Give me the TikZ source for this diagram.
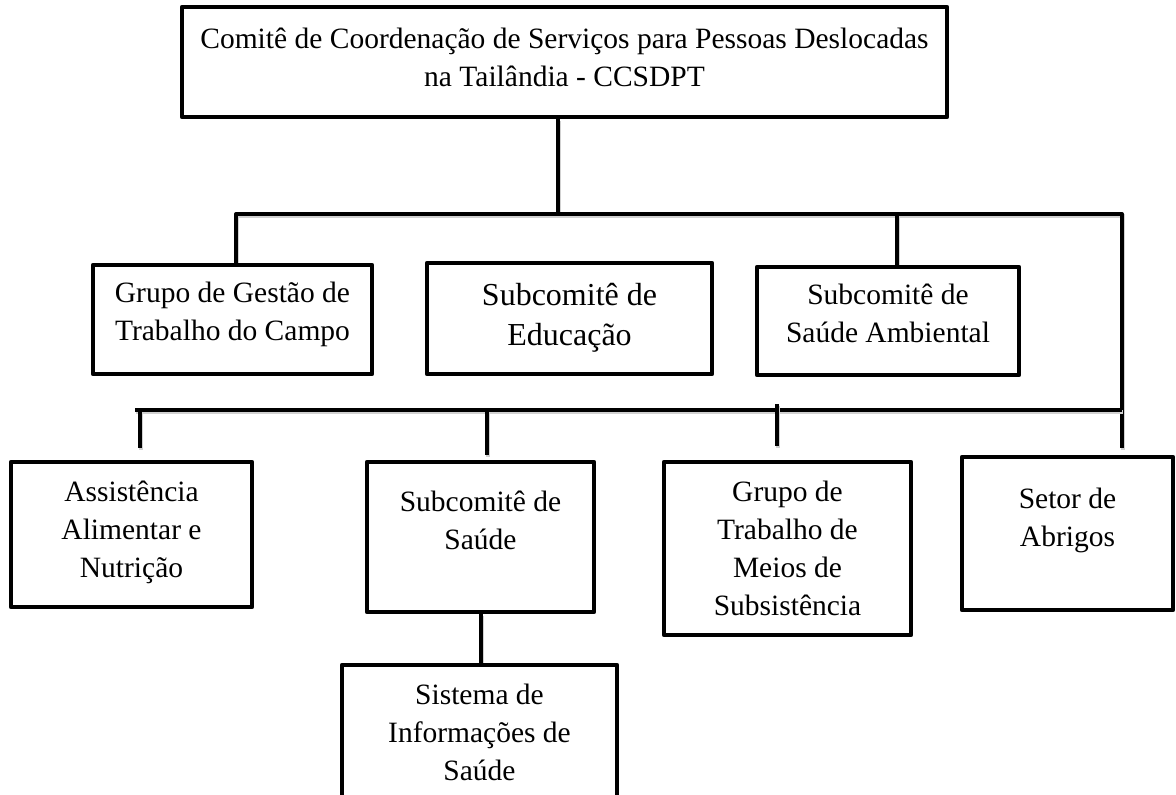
\documentclass[tikz,border=0pt]{standalone}
\usepackage{fontspec}
\setmainfont{Liberation Serif}
\usetikzlibrary{calc,backgrounds}
\begin{document}
\begin{tikzpicture}[x=1pt,y=-1pt,
  box/.style={draw=black, line width=4.5pt, inner sep=0pt, line join=round, rectangle},
  wire/.style={draw=black, line width=4pt,
    preaction={draw=black!18, line width=4pt, transform canvas={shift={(1.2pt,-1.8pt)}}}},
  txt/.style={align=center, inner sep=0pt, font=\fontsize{29.5}{38}\selectfont},
  bigtxt/.style={align=center, inner sep=0pt, font=\fontsize{32}{40}\selectfont}]
\useasboundingbox (0,0) rectangle (1176,795);
\clip (0,0) rectangle (1176,795);

% junction coordinates
\coordinate (a0) at (558,214);
\coordinate (bL) at (236,214);
\coordinate (bR) at (1122,214);
\coordinate (a3) at (897,214);
\coordinate (cL) at (135,410);
\coordinate (cR) at (1122,410);
\coordinate (c4) at (140,410);
\coordinate (c5) at (487,410);
\coordinate (c6) at (777,404);

% boxes
\node[box, minimum width=765pt, minimum height=110pt] (top) at (564.5,62) {};
\node[box, minimum width=279pt, minimum height=109pt] (b1) at (232.5,319.5) {};
\node[box, minimum width=285pt, minimum height=111pt] (b2) at (569.5,318.5) {};
\node[box, minimum width=262pt, minimum height=108pt] (b3) at (888,321) {};
\node[box, minimum width=241pt, minimum height=145pt] (b4) at (131.5,534.5) {};
\node[box, minimum width=227pt, minimum height=150pt] (b5) at (480.5,537) {};
\node[box, minimum width=247pt, minimum height=173pt] (b6) at (787.5,548.5) {};
\node[box, minimum width=211pt, minimum height=153pt] (b7) at (1067.5,533.5) {};
\node[box, minimum width=275pt, minimum height=150pt] (b8) at (479.5,740) {};

% texts
\node[txt] (ttop) at (564.5,60) {\strut Comitê de Coordenação de Serviços para Pessoas Deslocadas\\\strut na Tailândia - CCSDPT};
\node[txt] (t1) at (232.5,313.5) {\strut Grupo de Gestão de\\\strut Trabalho do Campo};
\node[bigtxt] (t2) at (569.5,317) {\strut Subcomitê de\\\strut Educação};
\node[txt] (t3) at (888,316) {\strut Subcomitê de\\\strut Saúde Ambiental};
\node[txt] (t4) at (131.5,532) {\strut Assistência\\\strut Alimentar e\\\strut Nutrição};
\node[txt] (t5) at (480.5,522.5) {\strut Subcomitê de\\\strut Saúde};
\node[txt] (t6) at (787.5,550.5) {\strut Grupo de\\\strut Trabalho de\\\strut Meios de\\\strut Subsistência};
\node[txt] (t7) at (1067.5,520) {\strut Setor de\\\strut Abrigos};
\node[txt] (t8) at (479.5,735) {\strut Sistema de\\\strut Informações de\\\strut Saúde};

% connectors, drawn behind the boxes
\begin{scope}[on background layer]
\fill[white] (0,0) rectangle (1176,795);
\draw[wire] (top.south -| a0) -- (a0);
\draw[wire, line join=round, shorten >=7pt] (bL |- b1.north) -- (bL) -- (bR) -- (bR |- b7.north);
\draw[wire] (a3) -- (a3 |- b3.north);
\draw[wire] (cL) -- (cR);
\draw[wire, shorten >=12pt] (c4) -- (c4 |- b4.north);
\draw[wire, shorten >=5pt] (c5) -- (c5 |- b5.north);
\draw[wire, shorten >=14pt] (c6) -- (c6 |- b6.north);
\draw[wire] (b5.south) -- (b5.south |- b8.north);
\end{scope}
\end{tikzpicture}
\end{document}
